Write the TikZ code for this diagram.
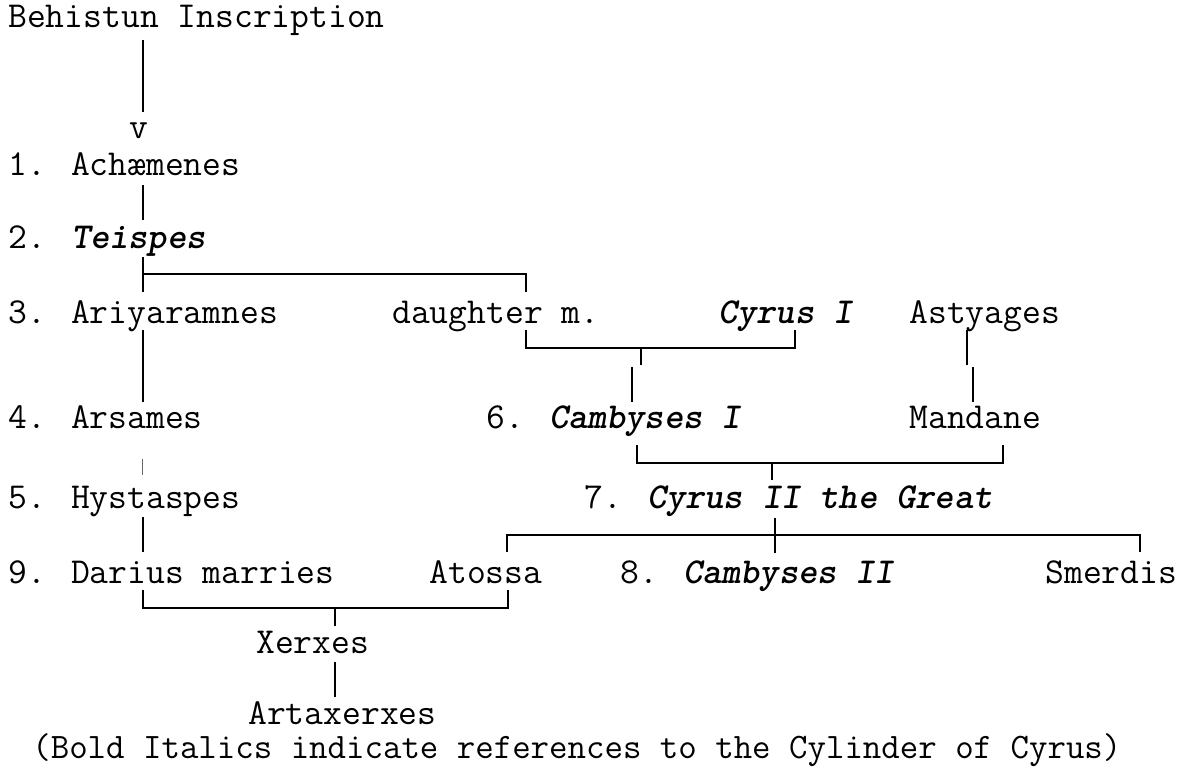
\documentclass[tikz,border=0pt]{standalone}
\usepackage{fontspec}
\usepackage{tikz}
\usetikzlibrary{positioning, calc}

\newcommand{\bi}[1]{\textbf{\textit{#1}}}

\begin{document}
\begin{tikzpicture}[x=0.02cm, y=-0.02cm,
  lbl/.style={anchor=base west, inner sep=0pt, font=\ttfamily\fontsize{20.8pt}{24pt}\selectfont},
  notelbl/.style={lbl, font=\ttfamily\fontsize{20.4pt}{24pt}\selectfont},
  ln/.style={line width=1.1pt},
  thin ln/.style={line width=0.5pt, black!60}]
\useasboundingbox (0,0) rectangle (1185,767);

% Names, row by row
\node[lbl] (beh) at (8,28) {Behistun Inscription};
\node[lbl, anchor=base] (vee) at (139,138) {v};
\node[lbl] (ach) at (8,175) {1. Achæmenes};
\node[lbl] (tei) at (8,248) {2. \bi{Teispes}};
\node[lbl] (ari) at (8,323) {3. Ariyaramnes};
\node[lbl] (dau) at (392,323) {daughter m.};
\node[lbl] (cyone) at (718,323) {\bi{Cyrus I}};
\node[lbl] (ast) at (909,323) {Astyages};
\node[lbl] (ars) at (8,428) {4. Arsames};
\node[lbl] (camone) at (486,428) {6. \bi{Cambyses I}};
\node[lbl] (man) at (909,428) {Mandane};
\node[lbl] (hys) at (8,508) {5. Hystaspes};
\node[lbl] (cytwo) at (584,508) {7. \bi{Cyrus II the Great}};
\node[lbl] (dar) at (8,583) {9. Darius marries};
\node[lbl] (ato) at (429,583) {Atossa};
\node[lbl] (camtwo) at (620,583) {8. \bi{Cambyses II}};
\node[lbl] (sme) at (1045,583) {Smerdis};
\node[lbl] (xer) at (256,653) {Xerxes};
\node[lbl] (art) at (248,724) {Artaxerxes};
\node[notelbl] (note) at (32,758) {(Bold Italics indicate references to the Cylinder of Cyrus)};

% Corner points of the brackets
\coordinate (teiL) at (143,274);
\coordinate (teiR) at (526,274);
\coordinate (dauL) at (526,348);
\coordinate (dauR) at (795,348);
\coordinate (dauM) at (641,348);
\coordinate (camL) at (637,463);
\coordinate (camR) at (1003,463);
\coordinate (camM) at (772,463);
\coordinate (cyL) at (507,535);
\coordinate (cyR) at (1140,535);
\coordinate (cyM) at (775,535);
\coordinate (darL) at (143,608);
\coordinate (darR) at (508,608);
\coordinate (darM) at (335,608);

% Behistun down to Achaemenes
\draw[ln] (143,40) -- (143,112);
\draw[ln] (143,185) -- (143,220);
% Teispes and his daughter
\draw[ln] (143,257) -- (143,292);
\draw[ln] (teiL) -- (teiR) -- (526,292);
% Ariyaramnes line
\draw[ln] (143,330) -- (143,402);
\draw[thin ln] (142,459) -- (142,475);
\draw[ln] (143,517) -- (143,552);
% daughter m. Cyrus I
\draw[ln] (526,330) -- (dauL) -- (dauR) -- (795,330);
\draw[ln] (dauM) -- (641,365);
\draw[ln] (632,367) -- (632,402);
% Astyages to Mandane
\draw[ln] (967,330) -- (967,365);
\draw[ln] (973,367) -- (973,402);
% Cambyses I and Mandane
\draw[ln] (637,445) -- (camL) -- (camR) -- (1003,445);
\draw[ln] (camM) -- (772,480);
% children of Cyrus II
\draw[ln] (507,552) -- (cyL) -- (cyR) -- (1140,552);
\draw[ln] (775,518) -- (775,553);
% Darius and Atossa
\draw[ln] (143,590) -- (darL) -- (darR) -- (508,590);
\draw[ln] (darM) -- (335,626);
\draw[ln] (335,662) -- (335,697);
\end{tikzpicture}
\end{document}
